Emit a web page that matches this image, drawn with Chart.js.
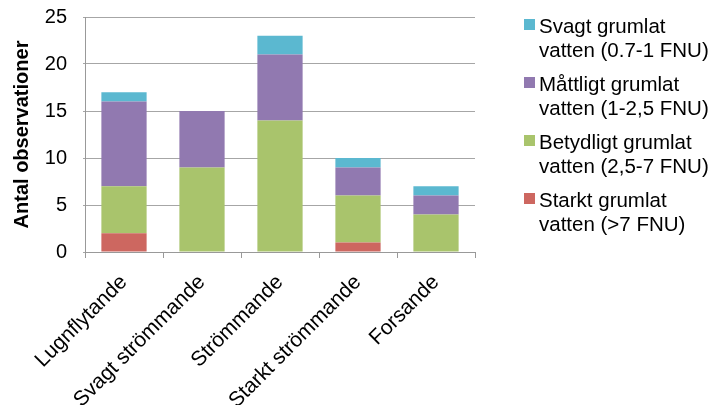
<!DOCTYPE html>
<html lang="sv">
<head>
    <meta charset="UTF-8">
    <title>Grumlighet per strömtyp</title>
    <script src="https://cdn.jsdelivr.net/npm/chart.js"></script>
    <style>
        body {
            margin: 0;
            background: #fff;
        }
        #wrap {
            width: 718px;
            height: 405px;
        }
    </style>
</head>
<body>
    <div id="wrap"><canvas id="grumlChart" width="718" height="405"></canvas></div>

    <script>
        const categories = ['Lugnflytande', 'Svagt strömmande', 'Strömmande', 'Starkt strömmande', 'Forsande'];
        const starkt = [2, 0, 0, 1, 0];
        const betydligt = [5, 9, 14, 5, 4];
        const mattligt = [9, 6, 7, 3, 2];
        const svagt = [1, 0, 2, 1, 1];
        const yTicks = [0, 5, 10, 15, 20, 25];

        const legendLines = [
            ['Svagt grumlat', 'vatten (0.7-1 FNU)'],
            ['Måttligt grumlat', 'vatten (1-2,5 FNU)'],
            ['Betydligt grumlat', 'vatten (2,5-7 FNU)'],
            ['Starkt grumlat', 'vatten (>7 FNU)']
        ];

        const FONT = '"Liberation Sans", Arial, sans-serif';

        // legend drawn at the right, top series first, two lines per entry
        const sideLegend = {
            id: 'sideLegend',
            afterDraw(chart) {
                const ctx = chart.ctx;
                const sets = chart.data.datasets.slice().reverse();
                ctx.save();
                ctx.font = '20.5px ' + FONT;
                ctx.textBaseline = 'alphabetic';
                sets.forEach((ds, i) => {
                    const y = 33 + i * 58;
                    ctx.fillStyle = ds.backgroundColor;
                    ctx.fillRect(524, y - 14, 11, 11);
                    ctx.fillStyle = '#000';
                    legendLines[i].forEach((t, j) => {
                        ctx.fillText(t, 539, y + j * 24);
                    });
                });
                ctx.restore();
            }
        };

        const ctx = document.getElementById('grumlChart').getContext('2d');
        new Chart(ctx, {
            type: 'bar',
            data: {
                labels: categories,
                datasets: [
                    { label: 'Starkt grumlat vatten (>7 FNU)', data: starkt, backgroundColor: '#CD6760' },
                    { label: 'Betydligt grumlat vatten (2,5-7 FNU)', data: betydligt, backgroundColor: '#A9C46C' },
                    { label: 'Måttligt grumlat vatten (1-2,5 FNU)', data: mattligt, backgroundColor: '#9179B0' },
                    { label: 'Svagt grumlat vatten (0.7-1 FNU)', data: svagt, backgroundColor: '#5BB8D0' }
                ]
            },
            options: {
                responsive: false,
                animation: false,
                barPercentage: 0.58,
                categoryPercentage: 1,
                layout: { padding: { top: 17, right: 243, left: 0, bottom: 0 } },
                plugins: {
                    legend: { display: false },
                    tooltip: { enabled: false }
                },
                scales: {
                    x: {
                        stacked: true,
                        grid: {
                            offset: true,
                            drawOnChartArea: false,
                            color: '#999',
                            tickLength: 6
                        },
                        border: { color: '#999' },
                        ticks: {
                            color: '#000',
                            font: { size: 21, family: FONT },
                            minRotation: 45,
                            maxRotation: 45,
                            padding: 12
                        },
                        afterFit(scale) {
                            scale.height = 153;
                            scale.paddingLeft = 0;
                            scale.paddingRight = 0;
                        }
                    },
                    y: {
                        stacked: true,
                        min: 0,
                        max: 25,
                        afterBuildTicks(scale) {
                            scale.ticks = yTicks.map(v => ({ value: v }));
                        },
                        grid: { color: '#A6A6A6', tickLength: 2 },
                        border: { color: '#999' },
                        ticks: {
                            color: '#000',
                            font: { size: 20, family: FONT },
                            padding: 16
                        },
                        title: {
                            display: true,
                            text: 'Antal observationer',
                            color: '#000',
                            font: { size: 20, weight: 'bold', family: FONT },
                            padding: { top: 10, bottom: 0 }
                        },
                        afterFit(scale) {
                            scale.width = 85;
                            scale.paddingTop = 0;
                            scale.paddingBottom = 0;
                        }
                    }
                }
            },
            plugins: [sideLegend]
        });
    </script>
</body>
</html>
